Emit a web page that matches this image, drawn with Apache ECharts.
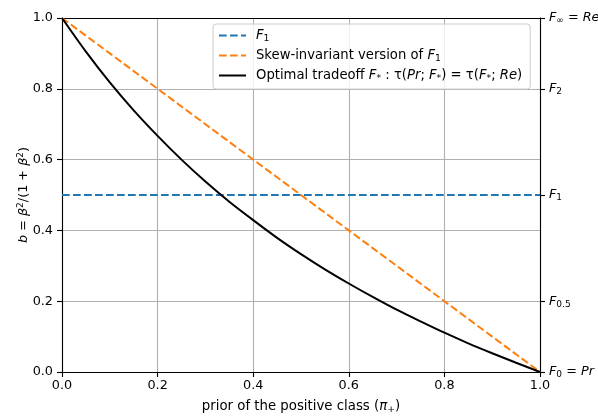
<!DOCTYPE html>
<html>
<head>
<meta charset="utf-8">
<script src="https://cdn.jsdelivr.net/npm/echarts@6/dist/echarts.min.js"></script>
<style>html,body{margin:0;padding:0;background:#fff;}#c{width:598px;height:417px;}</style>
</head>
<body>
<div id="c"></div>
<script>
// Data
const priors = [0,0.05,0.1,0.15,0.2,0.25,0.3,0.35,0.4,0.45,0.5,0.55,0.6,0.65,0.7,0.75,0.8,0.85,0.9,0.95,1];
const f1B = [0.5,0.5,0.5,0.5,0.5,0.5,0.5,0.5,0.5,0.5,0.5,0.5,0.5,0.5,0.5,0.5,0.5,0.5,0.5,0.5,0.5];
const skewB = [1,0.95,0.9,0.85,0.8,0.75,0.7,0.65,0.6,0.55,0.5,0.45,0.4,0.35,0.3,0.25,0.2,0.15,0.1,0.05,0];
const optimalB = [1,0.905,0.818,0.739,0.667,0.6,0.538,0.481,0.429,0.379,0.333,0.29,0.25,0.212,0.176,0.143,0.111,0.081,0.053,0.026,0];
const xTicks = [0,0.2,0.4,0.6,0.8,1.0];
const rightTickValues = [0,0.2,0.5,0.8,1.0];
const rightTickLabels = ['{i|F}{sub|0} = {i|Pr}','{i|F}{sub|0.5}','{i|F}{sub|1}','{i|F}{sub|2}','{i|F}{sub|∞} = {i|Re}'];
const seriesNames = ['F1','Skew-invariant version of F1','Optimal tradeoff'];
const legendLabels = ['{li|F}{ls|1}','Skew-invariant version of {li|F}{ls|1}','Optimal tradeoff {li|F}{ls|*} : τ({li|Pr}; {li|F}{ls|*}) = τ({li|F}{ls|*}; {li|Re})'];
const xName = 'prior of the positive class ({xi|π}{xs|+})';
const yName = '{i|b} = {i|β}{sup|2}/(1 + {i|β}{sup|2})';

const FONT = 'DejaVu Sans';
const FS = 12.8;
const SFS = 9;
const LFS = 13.2;
const rich = {
  i: {fontFamily: FONT, fontSize: FS, fontStyle: 'italic', color: '#000'},
  sub: {fontFamily: FONT, fontSize: SFS, color: '#000', padding: [6,0,0,0]},
  sup: {fontFamily: FONT, fontSize: SFS, color: '#000', padding: [0,0,6,0]},
  li: {fontFamily: FONT, fontSize: LFS, fontStyle: 'italic', color: '#000'},
  ls: {fontFamily: FONT, fontSize: 9.3, color: '#000', padding: [6,0,0,0]},
  xi: {fontFamily: FONT, fontSize: 13.3, fontStyle: 'italic', color: '#000'},
  xs: {fontFamily: FONT, fontSize: 9.3, color: '#000', padding: [6,0,0,0]}
};

const chart = echarts.init(document.getElementById('c'), null, {renderer: 'canvas'});
const pts = arr => priors.map((p, i) => [p, arr[i]]);

chart.setOption({
  animation: false,
  backgroundColor: '#fff',
  textStyle: {fontFamily: FONT},
  grid: {left: 62, right: 58, top: 18, bottom: 45, containLabel: false, outerBoundsMode: 'none'},
  xAxis: [{
    type: 'value', min: 0, max: 1, interval: 0.2, position: 'bottom',
    name: xName, nameLocation: 'middle', nameGap: 27, nameMoveOverlap: false,
    nameTextStyle: {fontFamily: FONT, fontSize: 13.3, color: '#000', rich: rich},
    axisLine: {show: true, onZero: false, lineStyle: {color: '#000', width: 1.1}},
    axisTick: {show: true, length: 5, lineStyle: {color: '#000', width: 1.1}},
    axisLabel: {fontFamily: FONT, fontSize: FS, color: '#000', margin: 7, formatter: v => v.toFixed(1)},
    splitLine: {show: true, lineStyle: {color: '#b0b0b0', width: 1.1}}
  }, {
    type: 'value', min: 0, max: 1, position: 'top',
    axisLine: {show: true, onZero: false, lineStyle: {color: '#000', width: 1.1}},
    axisTick: {show: false}, axisLabel: {show: false}, splitLine: {show: false}
  }],
  yAxis: [{
    type: 'value', min: 0, max: 1, interval: 0.2, position: 'left',
    name: yName, nameLocation: 'middle', nameGap: 31, nameRotate: 90, nameMoveOverlap: false,
    nameTextStyle: {fontFamily: FONT, fontSize: FS, color: '#000', rich: rich},
    axisLine: {show: true, onZero: false, lineStyle: {color: '#000', width: 1.1}},
    axisTick: {show: true, length: 5, lineStyle: {color: '#000', width: 1.1}},
    axisLabel: {fontFamily: FONT, fontSize: FS, color: '#000', margin: 9, formatter: v => v.toFixed(1)},
    splitLine: {show: true, lineStyle: {color: '#b0b0b0', width: 1.1}}
  }, {
    type: 'value', min: 0, max: 1, interval: 0.1, position: 'right',
    axisLine: {show: true, onZero: false, lineStyle: {color: '#000', width: 1.1}},
    axisTick: {show: true, length: 5, customValues: rightTickValues, lineStyle: {color: '#000', width: 1.1}},
    axisLabel: {show: true, margin: 9, customValues: rightTickValues,
      fontFamily: FONT, fontSize: FS, color: '#000', rich: rich,
      formatter: v => {
        const k = rightTickValues.findIndex(t => Math.abs(t - v) < 1e-6);
        return k >= 0 ? rightTickLabels[k] : '';
      }},
    splitLine: {show: false}
  }],
  legend: {
    orient: 'vertical', left: 213, top: 24,
    data: seriesNames,
    itemWidth: 27, itemHeight: 14, itemGap: 6,
    padding: [5, 8, 6, 5],
    backgroundColor: 'rgba(255,255,255,0.8)',
    borderColor: '#cccccc', borderWidth: 1, borderRadius: 3,
    itemStyle: {opacity: 0, borderWidth: 0},
    textStyle: {fontFamily: FONT, fontSize: LFS, color: '#000', rich: rich, padding: [0,0,0,5]},
    formatter: name => legendLabels[seriesNames.indexOf(name)]
  },
  series: [{
    name: seriesNames[0], type: 'line', data: pts(f1B), symbol: 'none', z: 3,
    lineStyle: {color: '#1f77b4', width: 2, type: [7.7, 3.3]}, itemStyle: {color: '#1f77b4'}
  }, {
    name: seriesNames[1], type: 'line', data: pts(skewB), symbol: 'none', z: 3,
    lineStyle: {color: '#ff7f0e', width: 2, type: [7.7, 3.3]}, itemStyle: {color: '#ff7f0e'}
  }, {
    name: seriesNames[2], type: 'line', data: pts(optimalB), symbol: 'none', smooth: 0.3, z: 4,
    lineStyle: {color: '#000', width: 2}, itemStyle: {color: '#000'}
  }]
});
</script>
</body>
</html>
